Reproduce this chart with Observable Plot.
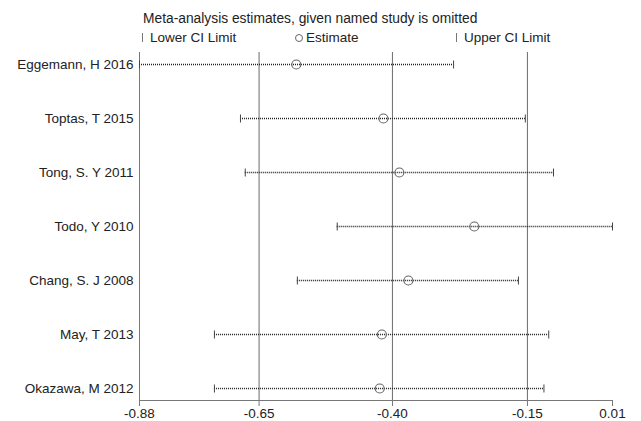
<!DOCTYPE html>
<html>
<head>
<meta charset="utf-8">
<script src="https://cdn.jsdelivr.net/npm/d3@7"></script>
<script src="https://cdn.jsdelivr.net/npm/@observablehq/plot@0.6"></script>
<style>
  body { margin: 0; background: #fff; font-family: "Liberation Sans", Arial, Helvetica, sans-serif; }
  #wrap { width: 641px; height: 421px; position: relative; overflow: hidden; }
  #header { position: relative; width: 641px; height: 45px; font-size: 13.5px; color: #222; }
  #header span { position: absolute; line-height: 15px; white-space: nowrap; }
  .bar { display: block; width: 1px; height: 9px; background: #777; }
  .circ { display: block; width: 8px; height: 8px; border: 1px solid #666; border-radius: 50%; box-sizing: border-box; }
  svg { display: block; }
</style>
</head>
<body>
<div id="wrap">
  <div id="header">
    <span style="left:143px; top:11px; font-size:13.8px;">Meta-analysis estimates, given named study is omitted</span>
    <span style="left:142px; top:33px;"><i class="bar"></i></span>
    <span style="left:150px; top:30px;">Lower CI Limit</span>
    <span style="left:295px; top:33.5px;"><i class="circ"></i></span>
    <span style="left:306px; top:30px;">Estimate</span>
    <span style="left:456px; top:33px;"><i class="bar"></i></span>
    <span style="left:464px; top:30px;">Upper CI Limit</span>
  </div>
  <div id="chart"></div>
</div>
<script>
// Omitted study labels (top to bottom)
const studies = ["Eggemann, H 2016", "Toptas, T 2015", "Tong, S. Y 2011", "Todo, Y 2010", "Chang, S. J 2008", "May, T 2013", "Okazawa, M 2012"];
// Estimates with the named study omitted
const estimates = [-0.585, -0.421, -0.391, -0.250, -0.374, -0.424, -0.428];
const lowerCI   = [-0.880, -0.690, -0.681, -0.508, -0.583, -0.739, -0.739];
const upperCI   = [-0.289, -0.154, -0.101,  0.010, -0.167, -0.110, -0.119];
// Combined (all studies) estimate and its CI: reference lines
const overall = [-0.655, -0.404, -0.150];
// Axis ticks and labels
const xTicks = [-0.88, -0.655, -0.404, -0.150, 0.01];
const xTickLabels = ["-0.88", "-0.65", "-0.40", "-0.15", "0.01"];
const xDomain = [-0.88, 0.01];

const data = studies.map((s, i) => ({study: s, est: estimates[i], lo: lowerCI[i], hi: upperCI[i]}));

// vertical bar symbol for CI caps
const vbar = {
  draw(ctx, size) {
    const h = Math.sqrt(size / Math.PI);
    ctx.moveTo(0, -h);
    ctx.lineTo(0, h);
  }
};

const chart = Plot.plot({
  width: 641,
  height: 376,
  marginTop: 7,
  marginBottom: 21,
  marginLeft: 139,
  marginRight: 29,
  style: {fontSize: "13.5px", fontFamily: "'Liberation Sans', Arial, Helvetica, sans-serif", color: "#222", background: "#fff"},
  x: {domain: xDomain, label: null},
  y: {type: "point", domain: studies, padding: 0.2, label: null},
  marks: [
    Plot.ruleX(overall, {stroke: "#777", strokeWidth: 1.1}),
    Plot.frame({anchor: "left", stroke: "#777"}),
    Plot.frame({anchor: "bottom", stroke: "#777"}),
    Plot.ruleY(data, {y: "study", x1: "lo", x2: "hi", stroke: "#222", strokeWidth: 1.6, strokeDasharray: "1,1"}),
    Plot.dot(data, {x: "lo", y: "study", symbol: vbar, r: 4, stroke: "#444", strokeWidth: 1}),
    Plot.dot(data, {x: "hi", y: "study", symbol: vbar, r: 4, stroke: "#444", strokeWidth: 1}),
    Plot.dot(data, {x: "est", y: "study", r: 4.5, stroke: "#666", strokeWidth: 1.1, fill: "none"}),
    Plot.axisY({tickSize: 0, tickPadding: 6, fontSize: 13.5, fill: "#222"}),
    Plot.axisX({ticks: xTicks, tickFormat: (d, i) => xTickLabels[i], tickSize: 6, tickPadding: 2, stroke: "#777", fill: "#222", fontSize: 13.5})
  ]
});
document.getElementById("chart").appendChild(chart);
</script>
</body>
</html>
